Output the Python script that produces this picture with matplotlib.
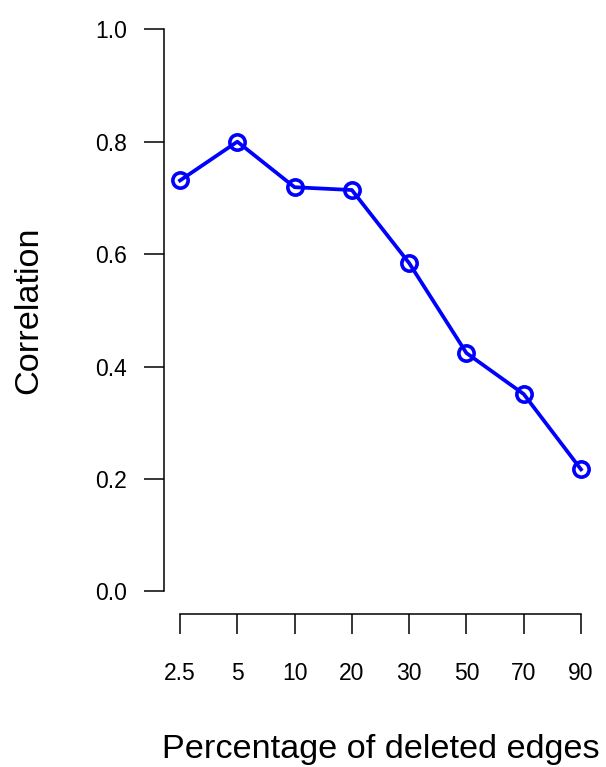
import numpy as np
import matplotlib
matplotlib.use("Agg")
import matplotlib.pyplot as plt

plt.rcParams['font.family'] = ['Liberation Sans', 'DejaVu Sans']

# data
pct_labels = ["2.5", "5", "10", "20", "30", "50", "70", "90"]
correlation = [0.731, 0.800, 0.719, 0.714, 0.584, 0.424, 0.351, 0.217]
y_ticks = [0.0, 0.2, 0.4, 0.6, 0.8, 1.0]

W, H = 606, 767
fig = plt.figure(figsize=(W / 100, H / 100), dpi=100)

# plot region in pixels (R-style 4% padding around the data range)
left, right, top, bottom = 164, 597, 6.8, 613.8
ax = fig.add_axes([left / W, 1 - bottom / H, (right - left) / W, (bottom - top) / H])

x = np.arange(1, len(pct_labels) + 1)
ax.plot(x, correlation, color="#0000FF", lw=2.7, marker="o", ms=11,
        mfc="none", mec="#0000FF", mew=2.6)

n = len(pct_labels)
ax.set_xlim(1 - 0.04 * (n - 1), n + 0.04 * (n - 1))
ax.set_ylim(-0.04, 1.04)

ax.set_xticks(x)
ax.set_xticklabels(pct_labels)
ax.set_yticks(y_ticks)
ax.set_yticklabels([f"{v:.1f}" for v in y_ticks])

for side in ["top", "right"]:
    ax.spines[side].set_visible(False)
ax.spines["left"].set_bounds(0, 1)
ax.spines["bottom"].set_bounds(1, n)
for side in ["left", "bottom"]:
    ax.spines[side].set_linewidth(1.1)

ax.tick_params(axis="both", direction="out", length=14.4, width=1.1,
               labelsize=16.5, colors="black")
ax.tick_params(axis="x", pad=20)
ax.tick_params(axis="y", pad=12)

fig.text(381 / W, 1 - 758 / H, "Percentage of deleted edges", fontsize=24.7,
         ha="center", va="baseline")
fig.text(29 / W, 1 - 310 / H, "Correlation", fontsize=24.7,
         rotation=90, ha="center", va="center")

fig.savefig("out.png", dpi=100)
